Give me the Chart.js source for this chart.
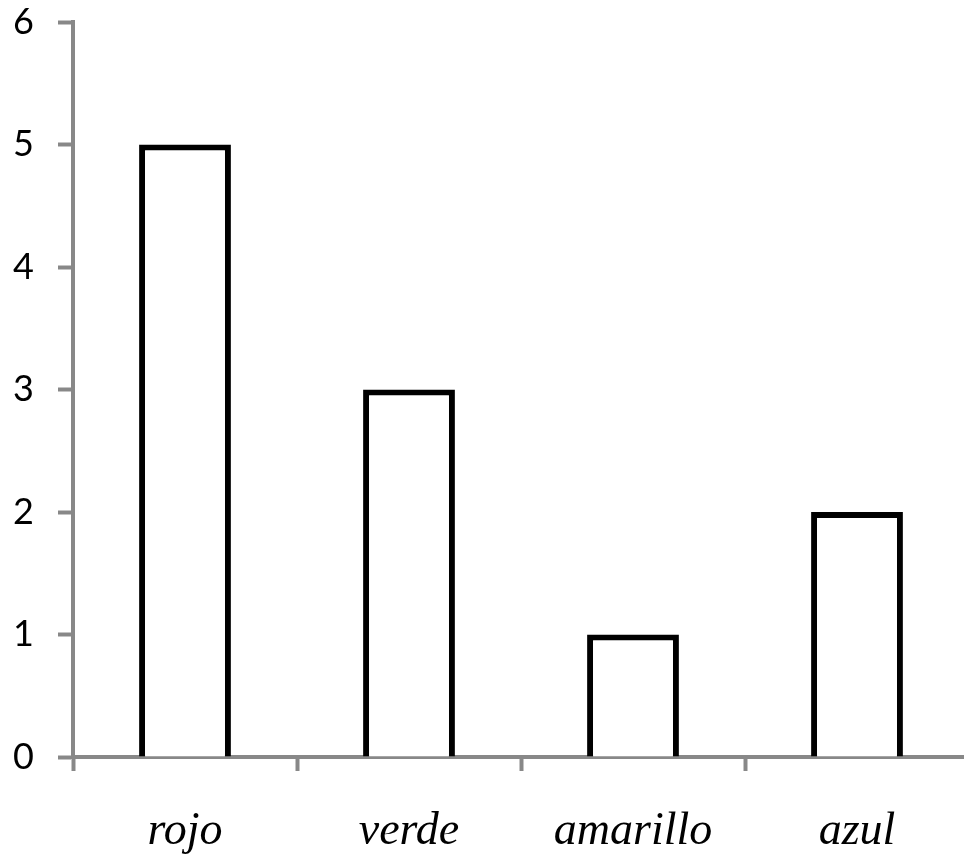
<!DOCTYPE html>
<html>
<head>
<meta charset="utf-8">
<script src="https://cdn.jsdelivr.net/npm/chart.js@4/dist/chart.umd.min.js"></script>
<style>
html,body{margin:0;padding:0;background:#fff;overflow:hidden;}
#wrap{width:969px;height:867px;position:relative;}
</style>
</head>
<body>
<div id="wrap"><canvas id="c"></canvas></div>
<script>
const categories = ["rojo", "verde", "amarillo", "azul"];
const values = [5, 3, 1, 2];
const yTicks = [0, 1, 2, 3, 4, 5, 6];

const grey = "#888888";
new Chart(document.getElementById("c"), {
  type: "bar",
  data: {
    labels: categories,
    datasets: [{
      data: values,
      backgroundColor: "#ffffff",
      borderColor: "#000000",
      borderWidth: 6,
      borderSkipped: "start",
      categoryPercentage: 1,
      barPercentage: 0.41
    }]
  },
  options: {
    responsive: true,
    maintainAspectRatio: false,
    animation: false,
    layout: { padding: { top: 22, right: 0, left: 0, bottom: 0 } },
    plugins: { legend: { display: false }, tooltip: { enabled: false } },
    scales: {
      x: {
        grid: { display: true, drawOnChartArea: false, drawTicks: true, tickLength: 14, tickColor: grey, tickWidth: 4, offset: true },
        border: { display: true, color: grey, width: 4 },
        ticks: {
          color: "#000",
          font: { family: "'Liberation Serif'", style: "italic", size: 46 },
          padding: 33,
          maxRotation: 0
        },
        afterFit: (s) => { s.height = 110; s.paddingLeft = 0; s.paddingRight = 0; }
      },
      y: {
        min: 0, max: 6,
        afterBuildTicks: (s) => { s.ticks = yTicks.map(v => ({ value: v })); },
        grid: { display: true, drawOnChartArea: false, drawTicks: true, tickLength: 15, tickColor: grey, tickWidth: 4 },
        border: { display: true, color: grey, width: 4 },
        ticks: {
          color: "#000",
          font: { family: "Lato", size: 36 },
          padding: 24
        },
        afterFit: (s) => { s.width = 73; s.paddingTop = 0; s.paddingBottom = 0; }
      }
    }
  }
});
</script>
</body>
</html>
